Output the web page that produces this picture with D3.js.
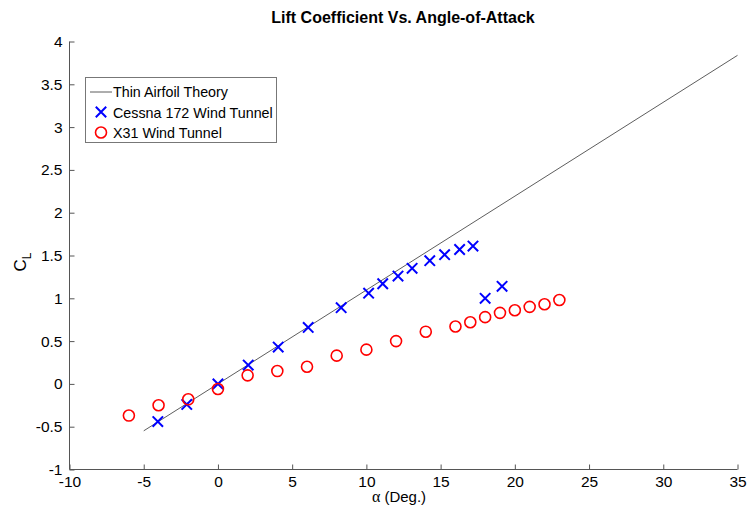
<!DOCTYPE html>
<html><head><meta charset="utf-8">
<script src="https://cdn.jsdelivr.net/npm/d3@7"></script>
<style>body{margin:0;background:#fff}svg{display:block}text{font-family:"Liberation Sans",Arial,Helvetica,sans-serif}</style>
</head><body><svg id="c" width="748" height="514"></svg>
<script>
const cessnaAlpha = [-4.05,-2.1,0,2.04,4.06,6.08,8.3,10.15,11.1,12.13,13.08,14.27,15.27,16.28,17.18,18.0,19.14];
const cessnaCL    = [-0.44,-0.24,0,0.22,0.43,0.66,0.89,1.06,1.17,1.26,1.35,1.44,1.51,1.57,1.61,1.00,1.14];
const x31Alpha = [-6,-4,-2,0,2,4,6,8,10,12,14,16,17,18,19,20,21,22,23];
const x31CL    = [-0.37,-0.25,-0.18,-0.06,0.10,0.15,0.20,0.33,0.40,0.50,0.61,0.67,0.72,0.78,0.83,0.86,0.90,0.93,0.98];
const theoryAlpha = [-5,35];
const xTicks = [-10,-5,0,5,10,15,20,25,30,35];
const yTicks = [-1,-0.5,0,0.5,1,1.5,2,2.5,3,3.5,4];
const legendLabels = ["Thin Airfoil Theory","Cessna 172 Wind Tunnel","X31 Wind Tunnel"];

const svg = d3.select("#c");
const x = d3.scaleLinear().domain([-10,35]).range([69.5,737.5]);
const y = d3.scaleLinear().domain([-1,4]).range([469.5,41.5]);
const axCol = "#555";

// axes
const xa = d3.axisBottom(x).tickValues(xTicks).tickSize(-5).tickFormat(d=>d);
const gx = svg.append("g").attr("transform","translate(0,469.5)").call(xa);
gx.select(".domain").attr("stroke",axCol).attr("d","M69.5,0H737.5");
gx.selectAll(".tick line").attr("stroke",axCol);
gx.selectAll(".tick text").attr("font-size",15.5).attr("fill","#000").attr("dy","0.95em");

const ya = d3.axisLeft(y).tickValues(yTicks).tickSize(-5).tickFormat(d=>d);
const gy = svg.append("g").attr("transform","translate(69.5,0)").call(ya);
gy.select(".domain").attr("stroke",axCol).attr("d","M0,469.5V41.5");
gy.selectAll(".tick line").attr("stroke",axCol);
gy.selectAll(".tick text").attr("font-size",15.5).attr("fill","#000").attr("x",-7);

// theory line
const cl = a => 2*Math.PI*a*Math.PI/180;
svg.append("path").datum(theoryAlpha)
  .attr("d", d3.line().x(a=>x(a)).y(a=>y(cl(a))))
  .attr("stroke","#333").attr("stroke-width",0.8).attr("fill","none");

// markers
const s = 5.2;
const cross = (g,cx,cy)=>g.append("path")
  .attr("d",`M${cx-s},${cy-s}L${cx+s},${cy+s}M${cx-s},${cy+s}L${cx+s},${cy-s}`)
  .attr("stroke","#0000ff").attr("stroke-width",2).attr("fill","none");
const gc = svg.append("g");
cessnaAlpha.forEach((a,i)=>cross(gc,x(a),y(cessnaCL[i])));
svg.append("g").selectAll("circle").data(x31Alpha).join("circle")
  .attr("cx",a=>x(a)).attr("cy",(a,i)=>y(x31CL[i])).attr("r",5.5)
  .attr("fill","none").attr("stroke","#ff0000").attr("stroke-width",1.6);

// legend
const lg = svg.append("g");
lg.append("rect").attr("x",85.5).attr("y",77.5).attr("width",191).attr("height",65)
  .attr("fill","#fff").attr("stroke","#777").attr("stroke-width",1);
lg.append("line").attr("x1",90).attr("x2",112).attr("y1",92).attr("y2",92).attr("stroke","#333").attr("stroke-width",0.8);
cross(lg,101,112);
lg.append("circle").attr("cx",101).attr("cy",132.5).attr("r",5.5).attr("fill","none").attr("stroke","#ff0000").attr("stroke-width",1.6);
legendLabels.forEach((t,i)=>lg.append("text").attr("x",113).attr("y",92+i*20.5).attr("dy","0.35em")
  .attr("font-size",14.3).attr("fill","#000").text(t));

// title & labels
svg.append("text").attr("x",403).attr("y",23).attr("text-anchor","middle")
  .attr("font-size",16).attr("font-weight","bold").text("Lift Coefficient Vs. Angle-of-Attack");
const xl = svg.append("text").attr("x",399).attr("y",502).attr("text-anchor","middle").attr("font-size",15);
xl.append("tspan").attr("font-family","'Liberation Serif',serif").attr("font-size",16).text("α");
xl.append("tspan").text(" (Deg.)");
const yl = svg.append("text").attr("transform","translate(26,262) rotate(-90)").attr("text-anchor","middle").attr("font-size",17);
yl.append("tspan").text("C");
yl.append("tspan").attr("font-size",12).attr("dy",5).text("L");
</script></body></html>
